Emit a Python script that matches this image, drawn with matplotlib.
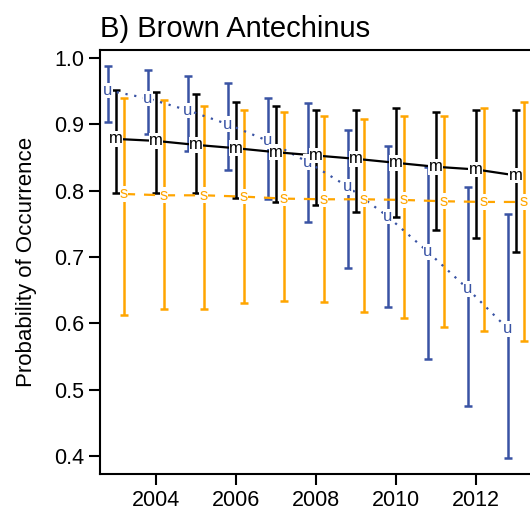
import numpy as np
import matplotlib
matplotlib.use("Agg")
import matplotlib.pyplot as plt

plt.rcParams['font.family'] = ['Liberation Sans', 'DejaVu Sans']

years = np.arange(2003, 2014)

# unburnt (u)
u_mean = [0.951, 0.939, 0.921, 0.900, 0.875, 0.843, 0.806, 0.761, 0.708, 0.652, 0.592]
u_low  = [0.904, 0.885, 0.860, 0.831, 0.787, 0.753, 0.684, 0.624, 0.547, 0.476, 0.397]
u_high = [0.988, 0.982, 0.973, 0.962, 0.939, 0.932, 0.892, 0.868, 0.835, 0.806, 0.765]

# mixed (m)
m_mean = [0.878, 0.875, 0.869, 0.864, 0.858, 0.853, 0.848, 0.842, 0.836, 0.832, 0.823]
m_low  = [0.796, 0.797, 0.797, 0.789, 0.783, 0.778, 0.768, 0.760, 0.741, 0.728, 0.708]
m_high = [0.952, 0.948, 0.945, 0.933, 0.928, 0.922, 0.922, 0.925, 0.918, 0.922, 0.922]

# single (s)
s_mean = [0.795, 0.793, 0.793, 0.791, 0.788, 0.787, 0.787, 0.786, 0.784, 0.783, 0.783]
s_low  = [0.612, 0.622, 0.622, 0.630, 0.634, 0.632, 0.617, 0.608, 0.594, 0.589, 0.574]
s_high = [0.939, 0.936, 0.927, 0.922, 0.918, 0.913, 0.908, 0.912, 0.913, 0.925, 0.933]

series = [
    # letter, mean, low, high, x offset, colour, linestyle
    ("u", u_mean, u_low, u_high, -0.2, "#3953a4", (0, (1, 3))),
    ("m", m_mean, m_low, m_high, 0.0, "black", "-"),
    ("s", s_mean, s_low, s_high, 0.2, "#ffa500", (0, (5, 4))),
]

fig = plt.figure(figsize=(5.3, 5.17), dpi=100)
ax = fig.add_axes([0.1887, 0.0832, 0.8145, 0.8201])

for letter, mean, low, high, off, col, ls in series:
    x = years + off
    mean = np.array(mean)
    yerr = [mean - np.array(low), np.array(high) - mean]
    ax.errorbar(x, mean, yerr=yerr, fmt="none", ecolor=col,
                elinewidth=1.8, capsize=3, capthick=1.8, zorder=2)
    ax.plot(x, mean, color=col, linestyle=ls, linewidth=1.6, zorder=3)
    for xi, yi in zip(x, mean):
        ax.text(xi, yi, letter, color=col, fontsize=12, ha="center", va="center",
                zorder=4, bbox=dict(facecolor="white", edgecolor="none", pad=0.2))

ax.set_xlim(2002.6, 2013.4)
ax.set_ylim(0.373, 1.012)
ax.set_xticks([2004, 2006, 2008, 2010, 2012])
ax.set_yticks([0.4, 0.5, 0.6, 0.7, 0.8, 0.9, 1.0])
ax.set_yticklabels(["0.4", "0.5", "0.6", "0.7", "0.8", "0.9", "1.0"])
ax.tick_params(direction="out", length=8, width=1.5, labelsize=15.5, pad=3.5)

for sp in ax.spines.values():
    sp.set_linewidth(1.5)

ax.set_ylabel("Probability of Occurrence", fontsize=16, labelpad=12)
ax.set_title("B) Brown Antechinus", loc="left", fontsize=21, pad=9)

plt.savefig("out.png", dpi=100)
